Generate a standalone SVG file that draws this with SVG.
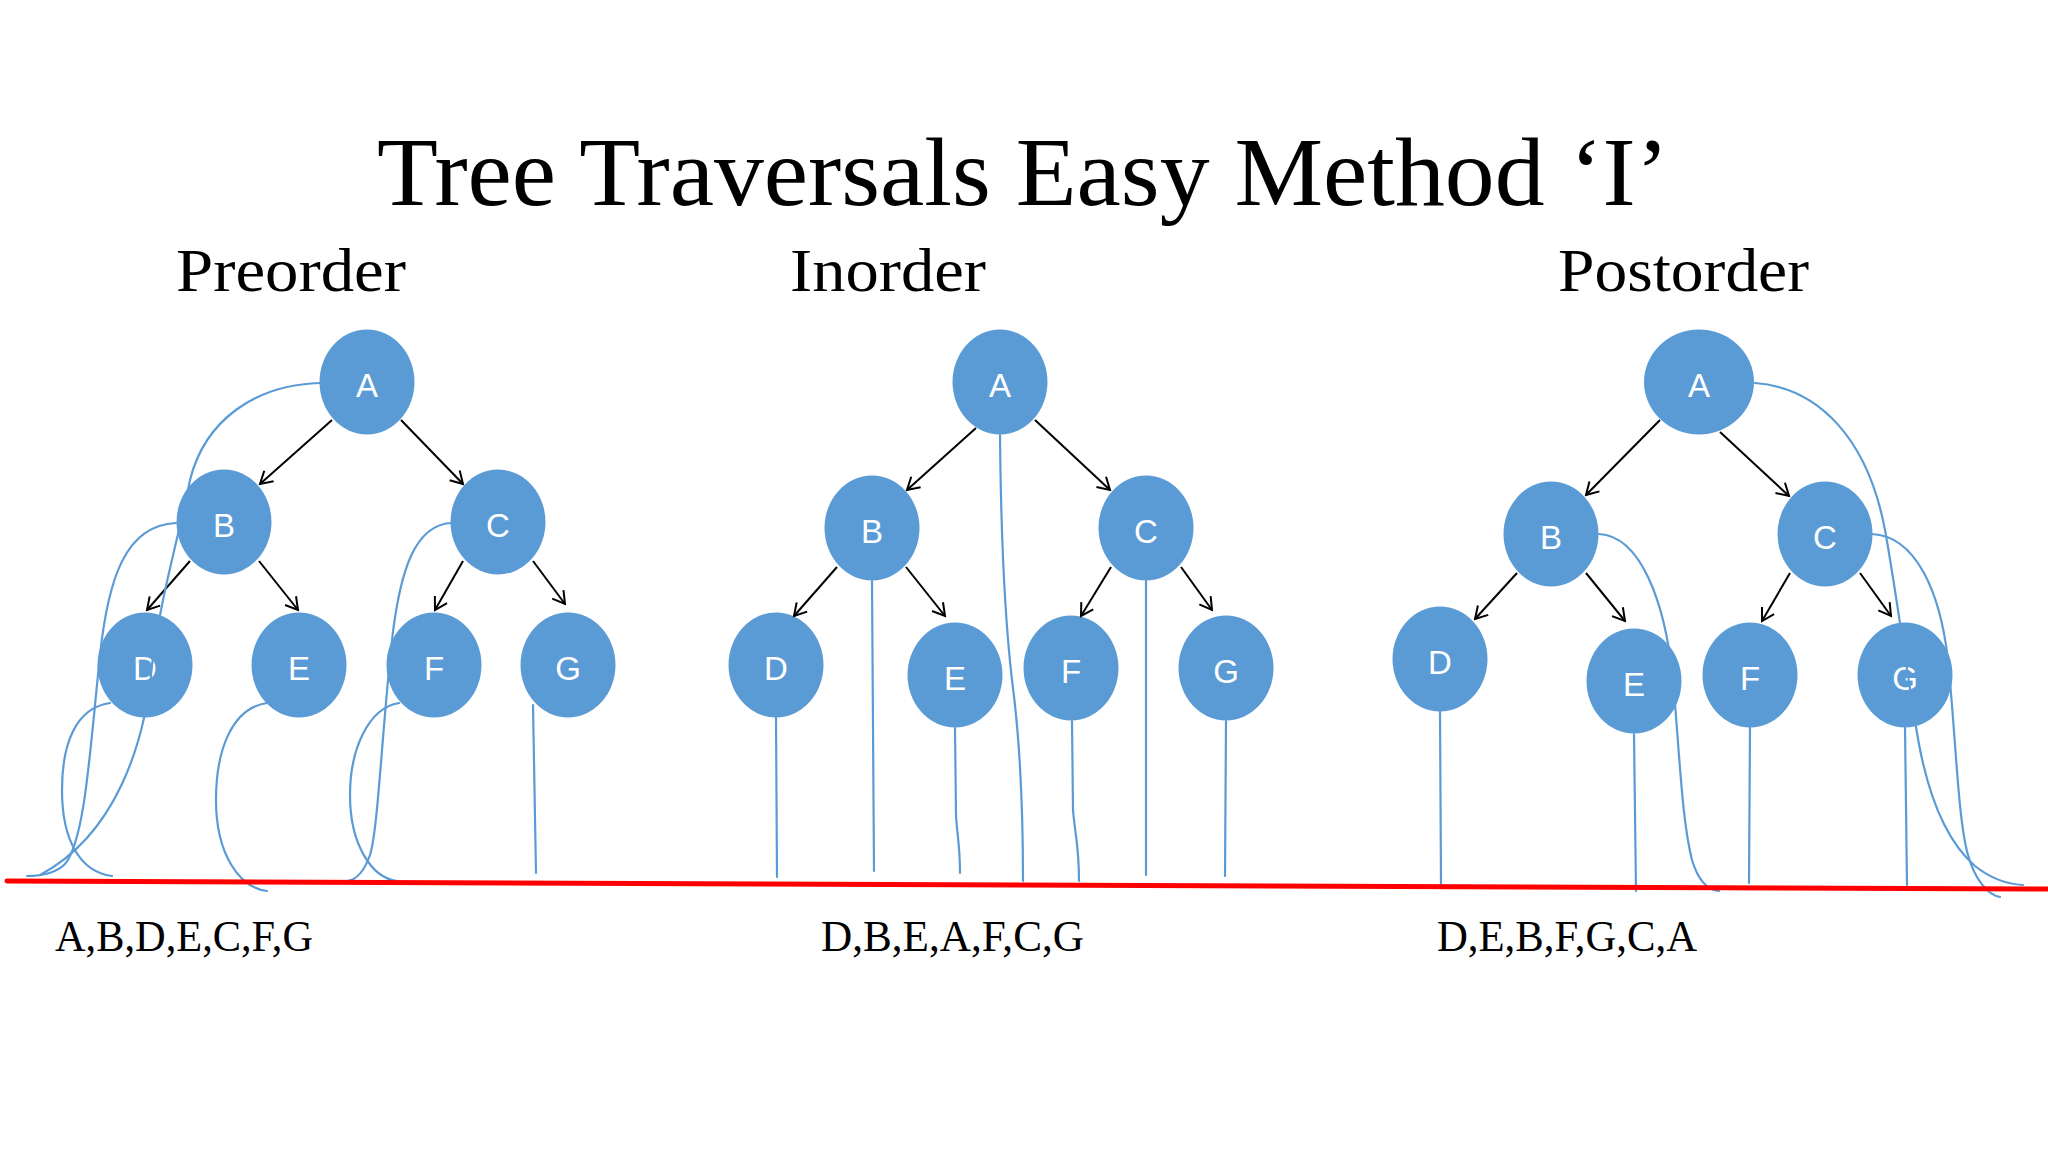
<svg xmlns="http://www.w3.org/2000/svg" width="2048" height="1152" viewBox="0 0 2048 1152">
<defs>
<style>
.node{fill:#5B9BD5;}
.lbl{fill:#FFFFFF;font-family:"Liberation Sans","Open Sans",sans-serif;font-size:33px;text-anchor:middle;}
.arrow{stroke:#000;stroke-width:2;fill:none;marker-end:url(#arr);}
.trace{stroke:#5B9BD5;stroke-width:2.2;fill:none;stroke-linecap:round;}
.title{font-family:"Liberation Serif",serif;fill:#000;}
</style>
<marker id="arr" viewBox="-14 -9 16 18" markerWidth="16" markerHeight="18" refX="0" refY="0" orient="auto" markerUnits="userSpaceOnUse">
<path d="M-12,-7 L0,0 L-12,7" fill="none" stroke="#000" stroke-width="2"/>
</marker>
</defs>
<rect width="2048" height="1152" fill="#FFFFFF"/>

<text class="title" x="377" y="205" font-size="97" textLength="1292" lengthAdjust="spacingAndGlyphs">Tree Traversals Easy Method ‘I’</text>
<text class="title" x="176" y="291" font-size="62" textLength="230" lengthAdjust="spacingAndGlyphs">Preorder</text>
<text class="title" x="790" y="291" font-size="62" textLength="196" lengthAdjust="spacingAndGlyphs">Inorder</text>
<text class="title" x="1558" y="291" font-size="62" textLength="251" lengthAdjust="spacingAndGlyphs">Postorder</text>

<g id="pre-tree">
<g id="pre-A"><ellipse class="node" cx="367" cy="382" rx="47.5" ry="52.5"/><text class="lbl" x="367" y="397">A</text></g>
<g id="pre-B"><ellipse class="node" cx="224" cy="522" rx="47.5" ry="52.5"/><text class="lbl" x="224" y="537">B</text></g>
<g id="pre-C"><ellipse class="node" cx="498" cy="522" rx="47.5" ry="52.5"/><text class="lbl" x="498" y="537">C</text></g>
<g id="pre-D"><ellipse class="node" cx="145" cy="665" rx="47.5" ry="52.5"/><text class="lbl" x="145" y="680">D</text></g>
<g id="pre-E"><ellipse class="node" cx="299" cy="665" rx="47.5" ry="52.5"/><text class="lbl" x="299" y="680">E</text></g>
<g id="pre-F"><ellipse class="node" cx="434" cy="665" rx="47.5" ry="52.5"/><text class="lbl" x="434" y="680">F</text></g>
<g id="pre-G"><ellipse class="node" cx="568" cy="665" rx="47.5" ry="52.5"/><text class="lbl" x="568" y="680">G</text></g>
</g>

<g id="in-tree">
<g id="in-A"><ellipse class="node" cx="1000" cy="382" rx="47.5" ry="52.5"/><text class="lbl" x="1000" y="397">A</text></g>
<g id="in-B"><ellipse class="node" cx="872" cy="528" rx="47.5" ry="52.5"/><text class="lbl" x="872" y="543">B</text></g>
<g id="in-C"><ellipse class="node" cx="1146" cy="528" rx="47.5" ry="52.5"/><text class="lbl" x="1146" y="543">C</text></g>
<g id="in-D"><ellipse class="node" cx="776" cy="665" rx="47.5" ry="52.5"/><text class="lbl" x="776" y="680">D</text></g>
<g id="in-E"><ellipse class="node" cx="955" cy="675" rx="47.5" ry="52.5"/><text class="lbl" x="955" y="690">E</text></g>
<g id="in-F"><ellipse class="node" cx="1071" cy="668" rx="47.5" ry="52.5"/><text class="lbl" x="1071" y="683">F</text></g>
<g id="in-G"><ellipse class="node" cx="1226" cy="668" rx="47.5" ry="52.5"/><text class="lbl" x="1226" y="683">G</text></g>
</g>

<g id="post-tree">
<g id="post-A"><ellipse class="node" cx="1699" cy="382" rx="55" ry="52.5"/><text class="lbl" x="1699" y="397">A</text></g>
<g id="post-B"><ellipse class="node" cx="1551" cy="534" rx="47.5" ry="52.5"/><text class="lbl" x="1551" y="549">B</text></g>
<g id="post-C"><ellipse class="node" cx="1825" cy="534" rx="47.5" ry="52.5"/><text class="lbl" x="1825" y="549">C</text></g>
<g id="post-D"><ellipse class="node" cx="1440" cy="659" rx="47.5" ry="52.5"/><text class="lbl" x="1440" y="674">D</text></g>
<g id="post-E"><ellipse class="node" cx="1634" cy="681" rx="47.5" ry="52.5"/><text class="lbl" x="1634" y="696">E</text></g>
<g id="post-F"><ellipse class="node" cx="1750" cy="675" rx="47.5" ry="52.5"/><text class="lbl" x="1750" y="690">F</text></g>
<g id="post-G"><ellipse class="node" cx="1905" cy="675" rx="47.5" ry="52.5"/><text class="lbl" x="1905" y="690">G</text></g>
</g>

<g id="connectors">
<line class="arrow" x1="332" y1="420" x2="260" y2="484"/>
<line class="arrow" x1="401" y1="420" x2="463" y2="484"/>
<line class="arrow" x1="190" y1="561" x2="147" y2="610"/>
<line class="arrow" x1="259" y1="561" x2="298" y2="610"/>
<line class="arrow" x1="463" y1="561" x2="435" y2="610"/>
<line class="arrow" x1="533" y1="561" x2="565" y2="604"/>

<line class="arrow" x1="976" y1="428" x2="907" y2="490"/>
<line class="arrow" x1="1035" y1="420" x2="1110" y2="490"/>
<line class="arrow" x1="837" y1="567" x2="794" y2="616"/>
<line class="arrow" x1="906" y1="567" x2="945" y2="616"/>
<line class="arrow" x1="1111" y1="567" x2="1081" y2="616"/>
<line class="arrow" x1="1181" y1="567" x2="1212" y2="610"/>

<line class="arrow" x1="1660" y1="420" x2="1586" y2="495"/>
<line class="arrow" x1="1720" y1="432" x2="1789" y2="496"/>
<line class="arrow" x1="1517" y1="573" x2="1475" y2="619"/>
<line class="arrow" x1="1586" y1="573" x2="1625" y2="621"/>
<line class="arrow" x1="1790" y1="573" x2="1762" y2="621"/>
<line class="arrow" x1="1860" y1="573" x2="1891" y2="616"/>
</g>

<g id="traces">
<path class="trace" d="M320,383 C255,385 205,420 190,480 C178,540 160,600 152,665 C145,745 115,835 40,875"/>
<path class="trace" d="M176,523 C125,525 108,580 100,655 C90,750 85,840 65,864 C55,874 40,876 27,876"/>
<path class="trace" d="M110,703 C75,708 62,745 62,790 C62,840 80,872 112,876"/>
<path class="trace" d="M267,703 C232,708 216,750 216,800 C216,855 240,888 267,891"/>
<path class="trace" d="M451,523 C415,525 400,570 392,640 C382,730 378,830 370,855 C364,872 356,880 347,881"/>
<path class="trace" d="M399,703 C368,708 350,750 350,795 C350,845 372,878 397,881"/>
<path class="trace" d="M533,705 L536,873"/>

<path class="trace" d="M776,717 L777,877"/>
<path class="trace" d="M872,581 L874,871"/>
<path class="trace" d="M955,728 L956,815 C957,835 960,845 960,873"/>
<path class="trace" d="M1000,435 C1001,540 1005,620 1012,680 C1020,740 1023,800 1023,881"/>
<path class="trace" d="M1072,721 L1073,810 C1075,835 1079,845 1079,881"/>
<path class="trace" d="M1146,581 L1146,875"/>
<path class="trace" d="M1226,721 L1225,876"/>

<path class="trace" d="M1440,711 L1441,884"/>
<path class="trace" d="M1634,734 L1636,891"/>
<path class="trace" d="M1599,534 C1640,536 1665,600 1673,680 C1680,760 1682,820 1692,860 C1698,880 1708,890 1719,891"/>
<path class="trace" d="M1750,727 L1749,883"/>
<path class="trace" d="M1905,727 L1907,885"/>
<path class="trace" d="M1872,534 C1915,536 1940,590 1948,660 C1956,740 1958,820 1968,855 C1975,880 1988,895 2000,897"/>
<path class="trace" d="M1755,383 C1820,388 1868,440 1885,530 C1895,585 1905,660 1915,720 C1925,790 1945,840 1975,866 C1990,878 2005,884 2023,885"/>
</g>

<line id="baseline" x1="7" y1="881" x2="2048" y2="889" stroke="#FF0000" stroke-width="5" stroke-linecap="round"/>

<text class="title" x="55" y="951" font-size="44" textLength="258" lengthAdjust="spacingAndGlyphs">A,B,D,E,C,F,G</text>
<text class="title" x="821" y="951" font-size="44" textLength="263" lengthAdjust="spacingAndGlyphs">D,B,E,A,F,C,G</text>
<text class="title" x="1437" y="951" font-size="44" textLength="260" lengthAdjust="spacingAndGlyphs">D,E,B,F,G,C,A</text>
</svg>
